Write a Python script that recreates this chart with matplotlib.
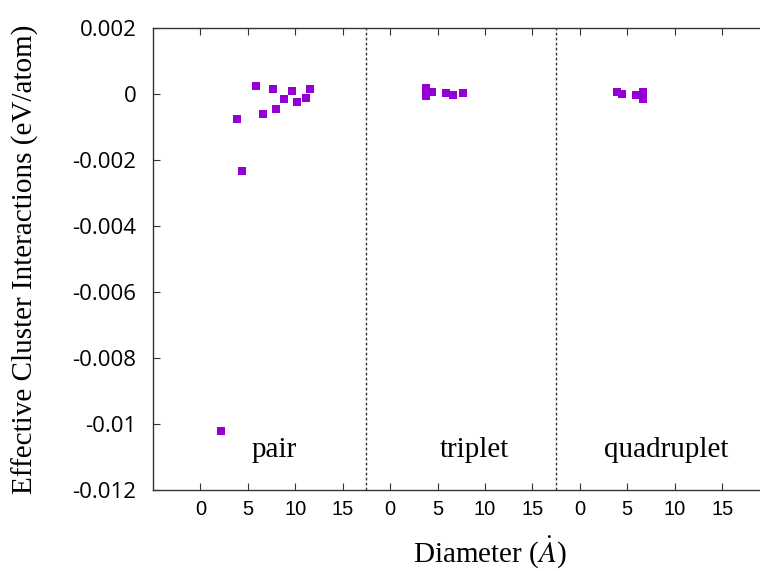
import matplotlib
matplotlib.use('Agg')
import matplotlib.pyplot as plt

plt.rcParams['axes.unicode_minus'] = False
plt.rcParams['mathtext.fontset'] = 'stix'

# values
pair_d = [2.17, 3.83, 4.43, 5.87, 6.61, 7.67, 7.98, 8.83, 9.67, 10.17, 11.09, 11.54]
pair_eci = [-0.0102, -0.00077, -0.00232, 0.00024, -0.00062, 0.00014, -0.00045,
            -0.00015, 0.00010, -0.00023, -0.00013, 0.00016]
triplet_d = [3.77, 3.77, 4.43, 5.91, 6.58, 7.67]
triplet_eci = [0.00017, -0.00006, 0.00006, 0.00004, -0.00003, 0.00002]
quad_d = [3.90, 4.47, 5.91, 6.65, 6.65]
quad_eci = [0.00006, 0.0, -0.00003, 0.00007, -0.00014]

cluster_names = ['pair', 'triplet', 'quadruplet']
panel_ticks = [0, 5, 10, 15]
ytick_vals = [0.002, 0, -0.002, -0.004, -0.006, -0.008, -0.01, -0.012]
ytick_labels = ['0.002', '0', '-0.002', '-0.004', '-0.006', '-0.008', '-0.01', '-0.012']

offset = 20  # each cluster type gets its own 20 A wide strip on the x axis
serif = 'Liberation Serif'
col = '#9400D3'
axcol = '#333333'

fig = plt.figure(figsize=(7.6, 5.71), dpi=100)
ax = fig.add_axes([153 / 760, 1 - 490 / 571, 664 / 760, 462 / 571])

for k, (d, e) in enumerate([(pair_d, pair_eci), (triplet_d, triplet_eci), (quad_d, quad_eci)]):
    ax.plot([x + k * offset for x in d], e, ls='none', marker='s', ms=5.2,
            mew=0, color=col, clip_on=False)

# separators between the strips
for k in range(1, 3):
    ax.axvline(k * offset - 2.5, color=axcol, lw=1, ls=(0, (2, 1.6)))

label_x = [7.8, 8.85, 9.15]
for k, name in enumerate(cluster_names):
    ax.text(label_x[k] + k * offset, -0.011, name, ha='center', va='baseline',
            family=serif, fontsize=21)

ax.set_xlim(-5, 65)
ax.set_ylim(-0.012, 0.002)

xt = [t + k * offset for k in range(3) for t in panel_ticks]
ax.set_xticks(xt)
ax.set_xticklabels([str(t) for k in range(3) for t in panel_ticks],
                   family='Liberation Sans', fontsize=14.5)
ax.set_yticks(ytick_vals)
ax.set_yticklabels(ytick_labels, family='Open Sans', fontsize=16)

ax.tick_params(axis='both', direction='in', length=5, width=0.8, color=axcol,
               top=True, right=False)
ax.tick_params(axis='x', pad=7)
ax.tick_params(axis='y', pad=12)
for s in ax.spines.values():
    s.set_color(axcol)
    s.set_linewidth(1)

fig.text(25 / 760, 1 - 259 / 571, 'Effective Cluster Interactions (eV/atom)',
         rotation=90, ha='center', va='center', family=serif, fontsize=21)
fig.text(490 / 760, 1 - 563 / 571, r'Diameter ($\dot{A}$)', ha='center',
         va='baseline', family=serif, fontsize=21)

fig.savefig('out.png', dpi=100)
